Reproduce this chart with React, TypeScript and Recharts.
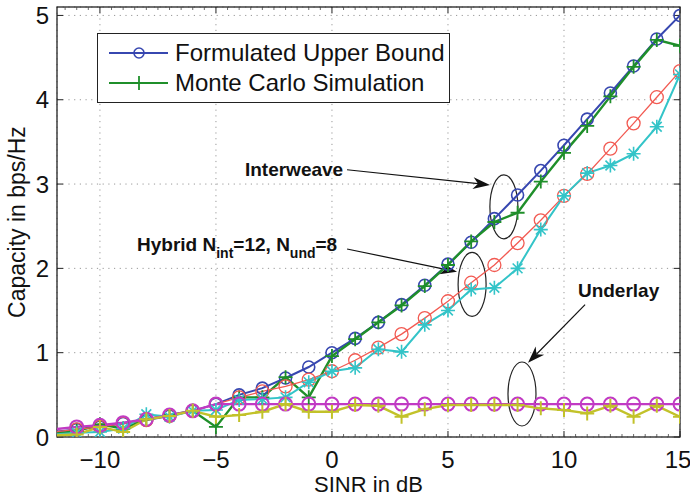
import React from "react";
import { LineChart, Line, XAxis, YAxis, CartesianGrid, Legend, Customized } from "recharts";

// SINR in dB (first point lies just left of the visible axis)
const sinrDb = [-12, -11, -10, -9, -8, -7, -6, -5, -4, -3, -2, -1, 0, 1, 2, 3, 4, 5, 6, 7, 8, 9, 10, 11, 12, 13, 14, 15];

// capacity in bps/Hz
const interweaveBound = [0.06, 0.09, 0.12, 0.16, 0.2, 0.25, 0.31, 0.39, 0.5, 0.58, 0.7, 0.83, 1.0, 1.17, 1.36, 1.57, 1.8, 2.05, 2.31, 2.59, 2.87, 3.16, 3.46, 3.77, 4.08, 4.4, 4.72, 5.0];
const interweaveSim = [0.04, 0.07, 0.15, 0.1, 0.21, 0.26, 0.31, 0.12, 0.47, 0.47, 0.71, 0.47, 0.96, 1.16, 1.36, 1.56, 1.79, 2.04, 2.32, 2.55, 2.66, 3.03, 3.37, 3.69, 4.04, 4.39, 4.71, 4.64];
const hybridBound = [0.06, 0.09, 0.12, 0.16, 0.2, 0.25, 0.31, 0.39, 0.47, 0.54, 0.6, 0.68, 0.78, 0.91, 1.06, 1.22, 1.41, 1.61, 1.83, 2.04, 2.3, 2.57, 2.86, 3.12, 3.42, 3.72, 4.03, 4.34];
const hybridSim = [0.03, 0.05, 0.06, 0.1, 0.27, 0.24, 0.31, 0.32, 0.44, 0.45, 0.47, 0.65, 0.78, 0.82, 1.04, 1.01, 1.33, 1.5, 1.75, 1.77, 2.0, 2.46, 2.86, 3.13, 3.22, 3.36, 3.68, 4.3];
const underlayBound = [0.09, 0.12, 0.14, 0.17, 0.21, 0.26, 0.31, 0.39, 0.39, 0.39, 0.39, 0.39, 0.39, 0.39, 0.39, 0.39, 0.39, 0.39, 0.39, 0.39, 0.39, 0.39, 0.39, 0.39, 0.39, 0.39, 0.39, 0.39];
const underlaySim = [0.02, 0.03, 0.12, 0.06, 0.21, 0.25, 0.31, 0.24, 0.26, 0.3, 0.39, 0.3, 0.3, 0.38, 0.37, 0.24, 0.33, 0.38, 0.38, 0.38, 0.38, 0.34, 0.32, 0.28, 0.37, 0.24, 0.37, 0.24];

const xTicks = [-10, -5, 0, 5, 10, 15];
const yTicks = [0, 1, 2, 3, 4, 5];

const data = sinrDb.map((s, i) => ({
  sinr: s,
  interweaveBound: interweaveBound[i],
  interweaveSim: interweaveSim[i],
  hybridBound: hybridBound[i],
  hybridSim: hybridSim[i],
  underlayBound: underlayBound[i],
  underlaySim: underlaySim[i],
}));

const W = 690;
const H = 498;
const X_DOMAIN: [number, number] = [-11.85, 15];
const Y_DOMAIN: [number, number] = [0, 5.1];
const PLOT = { left: 57, top: 7, width: 623, height: 430 };
const FONT = "'Liberation Sans', Arial, Helvetica, sans-serif";

const BLUE = "#3747b0";
const GREEN = "#1f8f2a";
const RED = "#f25a52";
const CYAN = "#33c4c8";
const MAGENTA = "#c13ac4";
const OLIVE = "#c2c22a";

const sx = (v: number) => PLOT.left + ((v - X_DOMAIN[0]) / (X_DOMAIN[1] - X_DOMAIN[0])) * PLOT.width;
const sy = (v: number) => PLOT.top + PLOT.height - ((v - Y_DOMAIN[0]) / (Y_DOMAIN[1] - Y_DOMAIN[0])) * PLOT.height;

const fmt = (v: number) => (v < 0 ? "\u2212" + Math.abs(v) : String(v));

type DotProps = { cx?: number; cy?: number; index?: number };

const hidden = (p: DotProps) => p.cx == null || p.cy == null || p.cx < PLOT.left - 0.5;

function circleDot(color: string, r: number, sw: number) {
  return (p: DotProps) =>
    hidden(p) ? (
      <g key={`c${p.index}`} />
    ) : (
      <circle key={`c${p.index}`} cx={p.cx} cy={p.cy} r={r} fill="none" stroke={color} strokeWidth={sw} />
    );
}

function plusDot(color: string, s: number, sw: number) {
  return (p: DotProps) =>
    hidden(p) ? (
      <g key={`p${p.index}`} />
    ) : (
      <path
        key={`p${p.index}`}
        d={`M${p.cx! - s},${p.cy} H${p.cx! + s} M${p.cx},${p.cy! - s} V${p.cy! + s}`}
        stroke={color}
        strokeWidth={sw}
        fill="none"
      />
    );
}

function starDot(color: string, s: number, sw: number) {
  const d = s * 0.7;
  return (p: DotProps) =>
    hidden(p) ? (
      <g key={`s${p.index}`} />
    ) : (
      <path
        key={`s${p.index}`}
        d={`M${p.cx! - s},${p.cy} H${p.cx! + s} M${p.cx},${p.cy! - s} V${p.cy! + s} M${p.cx! - d},${p.cy! - d} L${p.cx! + d},${p.cy! + d} M${p.cx! - d},${p.cy! + d} L${p.cx! + d},${p.cy! - d}`}
        stroke={color}
        strokeWidth={sw}
        fill="none"
      />
    );
}

// annotation anchors in data units
const notes = [
  { id: "iw", text: [{ t: "Interweave" }], at: [-3.75, 3.1], from: [0.65, 3.17], to: [6.81, 2.99], ring: [7.41, 2.73] },
  {
    id: "hy",
    text: [{ t: "Hybrid N" }, { t: "int", sub: true }, { t: "=12, N" }, { t: "und", sub: true }, { t: "=8" }],
    at: [-8.4, 2.21],
    from: [0.65, 2.23],
    to: [5.39, 1.96],
    ring: [6.04, 1.81],
  },
  { id: "ul", text: [{ t: "Underlay" }], at: [10.6, 1.66], from: [10.91, 1.57], to: [8.45, 0.88], ring: [8.19, 0.51] },
];

function Arrow({ x1, y1, x2, y2 }: { x1: number; y1: number; x2: number; y2: number }) {
  const a = Math.atan2(y2 - y1, x2 - x1);
  const len = 17;
  const half = 6;
  const ux = Math.cos(a);
  const uy = Math.sin(a);
  const bx = x2 - ux * len;
  const by = y2 - uy * len;
  const nx = bx + ux * 5;
  const ny = by + uy * 5;
  const pts = [
    [x2, y2],
    [bx - uy * half, by + ux * half],
    [nx, ny],
    [bx + uy * half, by - ux * half],
  ]
    .map((q) => q.join(","))
    .join(" ");
  return (
    <g>
      <line x1={x1} y1={y1} x2={nx} y2={ny} stroke="#111" strokeWidth={1.2} />
      <polygon points={pts} fill="#111" />
    </g>
  );
}

function Overlay() {
  const left = PLOT.left;
  const right = PLOT.left + PLOT.width;
  const top = PLOT.top;
  const bottom = PLOT.top + PLOT.height;
  const marks: React.ReactNode[] = [];
  xTicks.forEach((t) => {
    const x = sx(t);
    marks.push(<line key={`xb${t}`} x1={x} x2={x} y1={bottom} y2={bottom - 6} stroke="#222" />);
    marks.push(<line key={`xt${t}`} x1={x} x2={x} y1={top} y2={top + 6} stroke="#222" />);
  });
  for (let v = -11.5; v <= 15; v += 0.5) {
    if (Number.isInteger(v / 5)) continue;
    const x = sx(v);
    marks.push(<line key={`mb${v}`} x1={x} x2={x} y1={bottom} y2={bottom - 3} stroke="#444" strokeWidth={0.8} />);
    marks.push(<line key={`mt${v}`} x1={x} x2={x} y1={top} y2={top + 3} stroke="#444" strokeWidth={0.8} />);
  }
  yTicks.forEach((t) => {
    const y = sy(t);
    marks.push(<line key={`yl${t}`} x1={left} x2={left + 6} y1={y} y2={y} stroke="#222" />);
    marks.push(<line key={`yr${t}`} x1={right} x2={right - 6} y1={y} y2={y} stroke="#222" />);
  });

  return (
    <g fontFamily={FONT}>
      <rect x={left} y={top} width={PLOT.width} height={PLOT.height} fill="none" stroke="#222" strokeWidth={1.3} />
      {marks}
      {notes.map((n) => (
        <g key={n.id}>
          <text x={sx(n.at[0])} y={sy(n.at[1])} fontSize={19} fontWeight="bold" fill="#111">
            {n.text.map((s, i) => (
              <tspan key={i} fontSize={s.sub ? 14 : 19} dy={s.sub ? 7 : i > 0 && n.text[i - 1].sub ? -7 : 0}>
                {s.t}
              </tspan>
            ))}
          </text>
          <Arrow x1={sx(n.from[0])} y1={sy(n.from[1])} x2={sx(n.to[0])} y2={sy(n.to[1])} />
          <ellipse cx={sx(n.ring[0])} cy={sy(n.ring[1])} rx={14} ry={32} fill="none" stroke="#222" strokeWidth={1.2} />
        </g>
      ))}
      <text x={left + PLOT.width / 2} y={492} textAnchor="middle" fontSize={22} fill="#111">
        SINR in dB
      </text>
      <text x={25} y={top + PLOT.height / 2} textAnchor="middle" fontSize={23} fill="#111" transform={`rotate(-90, 25, ${top + PLOT.height / 2})`}>
        Capacity in bps/Hz
      </text>
    </g>
  );
}

const legendRows = [
  { label: "Formulated Upper Bound", color: BLUE, marker: "circle" },
  { label: "Monte Carlo Simulation", color: GREEN, marker: "plus" },
];

function LegendBox() {
  return (
    <div style={{ width: 353, height: 70, boxSizing: "border-box", border: "1.3px solid #222", background: "#fff" }}>
      <svg width={351} height={68} style={{ display: "block" }}>
        {legendRows.map((r, i) => {
          const y = 19 + i * 30;
          return (
            <g key={r.label}>
              <line x1={11} x2={70} y1={y} y2={y} stroke={r.color} strokeWidth={2} />
              {r.marker === "circle" ? (
                <circle cx={41} cy={y} r={5} fill="none" stroke={r.color} strokeWidth={1.6} />
              ) : (
                <path d={`M41,${y - 7} V${y + 7}`} stroke={r.color} strokeWidth={1.8} />
              )}
              <text x={77} y={y + 8} fontFamily={FONT} fontSize={24} fill="#111">
                {r.label}
              </text>
            </g>
          );
        })}
      </svg>
    </div>
  );
}

export default function App() {
  return (
    <div style={{ position: "absolute", left: 0, top: 0, width: W, height: H, background: "#fff" }}>
      <LineChart width={W} height={H} data={data} margin={{ top: 7, right: 10, bottom: 0, left: 0 }}>
        <CartesianGrid stroke="#999" strokeDasharray="1.2 4.5" />
        <XAxis
          dataKey="sinr"
          type="number"
          domain={X_DOMAIN}
          allowDataOverflow
          ticks={xTicks}
          tickFormatter={fmt}
          height={61}
          axisLine={false}
          tickLine={false}
          tickSize={0}
          tickMargin={14}
          tick={{ fontSize: 24, fill: "#111", fontFamily: FONT }}
        />
        <YAxis
          type="number"
          domain={Y_DOMAIN}
          allowDataOverflow
          ticks={yTicks}
          width={57}
          axisLine={false}
          tickLine={false}
          tickSize={0}
          tickMargin={8}
          tick={{ fontSize: 24, fill: "#111", fontFamily: FONT }}
        />
        <Legend layout="vertical" verticalAlign="middle" align="center" wrapperStyle={{ left: 97, top: 33, width: 353, height: 70 }} content={() => <LegendBox />} />
        <Line dataKey="interweaveBound" name="Formulated Upper Bound" stroke={BLUE} strokeWidth={2} dot={circleDot(BLUE, 6, 1.6)} activeDot={false} isAnimationActive={false} />
        <Line dataKey="interweaveSim" name="Monte Carlo Simulation" stroke={GREEN} strokeWidth={2.4} dot={plusDot(GREEN, 7, 1.8)} activeDot={false} isAnimationActive={false} />
        <Line dataKey="hybridBound" legendType="none" stroke={RED} strokeWidth={1.3} dot={circleDot(RED, 6.5, 1.3)} activeDot={false} isAnimationActive={false} />
        <Line dataKey="hybridSim" legendType="none" stroke={CYAN} strokeWidth={2} dot={starDot(CYAN, 7, 1.6)} activeDot={false} isAnimationActive={false} />
        <Line dataKey="underlayBound" legendType="none" stroke={MAGENTA} strokeWidth={2.4} dot={circleDot(MAGENTA, 6.5, 2)} activeDot={false} isAnimationActive={false} />
        <Line dataKey="underlaySim" legendType="none" stroke={OLIVE} strokeWidth={2.4} dot={plusDot(OLIVE, 7, 2)} activeDot={false} isAnimationActive={false} />
        <Customized component={<Overlay />} />
      </LineChart>
    </div>
  );
}
